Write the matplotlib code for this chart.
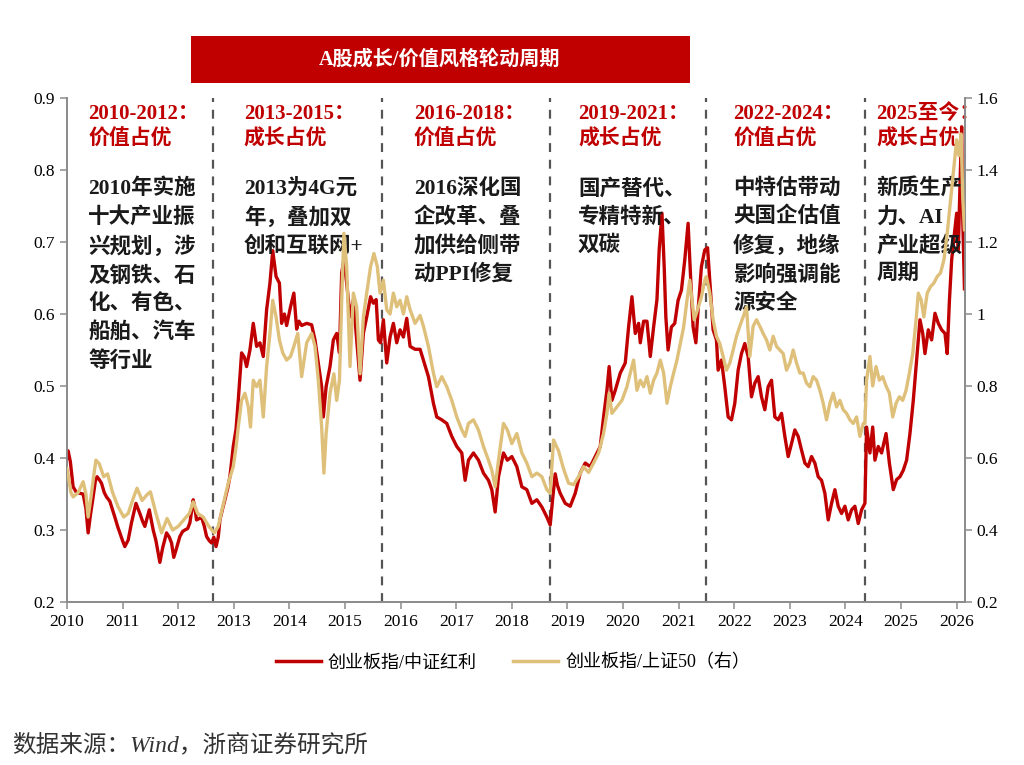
import matplotlib
matplotlib.use("Agg")
import matplotlib.pyplot as plt
from matplotlib.patches import Rectangle
from matplotlib.lines import Line2D

plt.rcParams['font.family'] = ['Liberation Serif', 'Noto Sans CJK SC', 'DejaVu Sans']

# ---------------- data ----------------
red_x = [2010.00, 2010.02, 2010.06, 2010.11, 2010.17, 2010.23, 2010.29, 2010.34, 2010.38, 2010.42,
         2010.47, 2010.51, 2010.54, 2010.58, 2010.62, 2010.67, 2010.71, 2010.77, 2010.82, 2010.86,
         2010.91, 2010.95, 2011.00, 2011.04, 2011.10, 2011.16, 2011.24, 2011.31, 2011.36, 2011.40,
         2011.48, 2011.55, 2011.60, 2011.64, 2011.67, 2011.72, 2011.79, 2011.84, 2011.88, 2011.92,
         2011.96, 2012.03, 2012.08, 2012.12, 2012.17, 2012.21, 2012.27, 2012.30, 2012.33, 2012.38,
         2012.42, 2012.47, 2012.51, 2012.56, 2012.60, 2012.64, 2012.68, 2012.72, 2012.75, 2012.80,
         2012.84, 2012.89, 2012.93, 2012.99, 2013.04, 2013.08, 2013.14, 2013.19, 2013.23, 2013.29,
         2013.35, 2013.41, 2013.47, 2013.53, 2013.59, 2013.65, 2013.70, 2013.73, 2013.76, 2013.82,
         2013.86, 2013.91, 2013.95, 2014.02, 2014.08, 2014.13, 2014.17, 2014.22, 2014.31, 2014.40,
         2014.46, 2014.52, 2014.58, 2014.61, 2014.66, 2014.73, 2014.79, 2014.85, 2014.90, 2014.94,
         2014.98, 2015.03, 2015.09, 2015.15, 2015.21, 2015.27, 2015.33, 2015.39, 2015.46, 2015.51,
         2015.56, 2015.60, 2015.64, 2015.69, 2015.75, 2015.81, 2015.87, 2015.93, 2015.99, 2016.05,
         2016.11, 2016.17, 2016.26, 2016.35, 2016.41, 2016.50, 2016.59, 2016.65, 2016.74, 2016.83,
         2016.92, 2017.01, 2017.10, 2017.16, 2017.22, 2017.31, 2017.40, 2017.49, 2017.58, 2017.64,
         2017.70, 2017.76, 2017.85, 2017.92, 2018.00, 2018.09, 2018.18, 2018.27, 2018.36, 2018.45,
         2018.54, 2018.63, 2018.69, 2018.73, 2018.78, 2018.82, 2018.87, 2018.96, 2019.05, 2019.14,
         2019.23, 2019.32, 2019.41, 2019.50, 2019.59, 2019.65, 2019.71, 2019.75, 2019.80, 2019.86,
         2019.95, 2020.04, 2020.10, 2020.16, 2020.22, 2020.28, 2020.31, 2020.37, 2020.43, 2020.49,
         2020.55, 2020.61, 2020.65, 2020.70, 2020.74, 2020.77, 2020.81, 2020.87, 2020.93, 2020.99,
         2021.05, 2021.11, 2021.17, 2021.22, 2021.26, 2021.31, 2021.35, 2021.41, 2021.47, 2021.52,
         2021.56, 2021.62, 2021.68, 2021.71, 2021.77, 2021.83, 2021.89, 2021.95, 2022.01, 2022.07,
         2022.13, 2022.19, 2022.25, 2022.31, 2022.37, 2022.43, 2022.49, 2022.55, 2022.61, 2022.67,
         2022.73, 2022.79, 2022.85, 2022.91, 2022.97, 2023.03, 2023.09, 2023.15, 2023.21, 2023.27,
         2023.33, 2023.39, 2023.45, 2023.51, 2023.57, 2023.63, 2023.69, 2023.75, 2023.81, 2023.87,
         2023.93, 2023.99, 2024.05, 2024.11, 2024.17, 2024.23, 2024.29, 2024.35, 2024.38, 2024.44,
         2024.49, 2024.53, 2024.59, 2024.65, 2024.73, 2024.79, 2024.86, 2024.92, 2024.98, 2025.04,
         2025.10, 2025.16, 2025.22, 2025.27, 2025.31, 2025.34, 2025.39, 2025.43, 2025.49, 2025.55,
         2025.61, 2025.67, 2025.73, 2025.79, 2025.83, 2025.87, 2025.91, 2025.96, 2026.00, 2026.03,
         2026.06, 2026.09, 2026.11, 2026.14]
red_y = [0.400, 0.410, 0.395, 0.360, 0.352, 0.351, 0.350, 0.330, 0.296, 0.320,
         0.346, 0.368, 0.374, 0.370, 0.365, 0.352, 0.346, 0.340, 0.328, 0.318,
         0.305, 0.296, 0.285, 0.277, 0.286, 0.310, 0.337, 0.323, 0.312, 0.305,
         0.328, 0.300, 0.285, 0.268, 0.255, 0.275, 0.296, 0.290, 0.282, 0.262,
         0.272, 0.291, 0.298, 0.300, 0.302, 0.310, 0.342, 0.330, 0.314, 0.316,
         0.318, 0.305, 0.291, 0.285, 0.282, 0.290, 0.277, 0.290, 0.314, 0.330,
         0.342, 0.358, 0.374, 0.416, 0.440, 0.480, 0.546, 0.540, 0.527, 0.550,
         0.587, 0.555, 0.560, 0.541, 0.606, 0.643, 0.688, 0.670, 0.652, 0.643,
         0.587, 0.600, 0.584, 0.610, 0.629, 0.579, 0.590, 0.584, 0.587, 0.585,
         0.564, 0.532, 0.499, 0.457, 0.499, 0.527, 0.564, 0.573, 0.546, 0.657,
         0.675, 0.643, 0.596, 0.620, 0.564, 0.508, 0.573, 0.596, 0.624, 0.615,
         0.620, 0.564, 0.560, 0.592, 0.532, 0.568, 0.587, 0.560, 0.578, 0.568,
         0.594, 0.555, 0.551, 0.551, 0.536, 0.513, 0.476, 0.457, 0.453, 0.448,
         0.430, 0.416, 0.407, 0.369, 0.397, 0.407, 0.397, 0.379, 0.369, 0.356,
         0.325, 0.374, 0.407, 0.397, 0.402, 0.388, 0.360, 0.356, 0.337, 0.342,
         0.332, 0.318, 0.307, 0.340, 0.378, 0.362, 0.351, 0.337, 0.333, 0.351,
         0.379, 0.393, 0.388, 0.402, 0.416, 0.457, 0.494, 0.527, 0.480, 0.494,
         0.518, 0.532, 0.582, 0.624, 0.573, 0.587, 0.560, 0.590, 0.590, 0.541,
         0.582, 0.620, 0.689, 0.740, 0.666, 0.596, 0.550, 0.582, 0.587, 0.619,
         0.633, 0.675, 0.726, 0.643, 0.582, 0.560, 0.606, 0.666, 0.689, 0.692,
         0.647, 0.578, 0.564, 0.522, 0.536, 0.499, 0.457, 0.453, 0.476, 0.522,
         0.545, 0.559, 0.541, 0.485, 0.504, 0.513, 0.485, 0.467, 0.499, 0.508,
         0.457, 0.453, 0.462, 0.430, 0.402, 0.420, 0.439, 0.430, 0.411, 0.393,
         0.388, 0.402, 0.393, 0.374, 0.369, 0.351, 0.314, 0.337, 0.356, 0.333,
         0.323, 0.333, 0.314, 0.328, 0.333, 0.309, 0.328, 0.337, 0.443, 0.407,
         0.443, 0.397, 0.416, 0.407, 0.434, 0.393, 0.356, 0.370, 0.374, 0.383,
         0.397, 0.434, 0.480, 0.527, 0.564, 0.592, 0.573, 0.545, 0.578, 0.564,
         0.601, 0.587, 0.578, 0.573, 0.545, 0.619, 0.675, 0.712, 0.740, 0.689,
         0.780, 0.860, 0.730, 0.635]

tan_x = [2010.00, 2010.03, 2010.07, 2010.11, 2010.20, 2010.29, 2010.34, 2010.38, 2010.43, 2010.47,
         2010.52, 2010.58, 2010.66, 2010.73, 2010.82, 2010.92, 2011.02, 2011.10, 2011.20, 2011.26,
         2011.35, 2011.45, 2011.50, 2011.60, 2011.70, 2011.80, 2011.90, 2012.00, 2012.10, 2012.20,
         2012.27, 2012.35, 2012.45, 2012.55, 2012.65, 2012.72, 2012.80, 2012.90, 2012.99, 2013.04,
         2013.08, 2013.14, 2013.20, 2013.26, 2013.30, 2013.35, 2013.41, 2013.47, 2013.53, 2013.59,
         2013.65, 2013.70, 2013.76, 2013.82, 2013.88, 2013.95, 2014.02, 2014.08, 2014.15, 2014.22,
         2014.31, 2014.40, 2014.46, 2014.52, 2014.58, 2014.62, 2014.66, 2014.73, 2014.80, 2014.85,
         2014.90, 2014.94, 2014.98, 2015.03, 2015.09, 2015.15, 2015.21, 2015.27, 2015.33, 2015.39,
         2015.46, 2015.52, 2015.58, 2015.63, 2015.69, 2015.75, 2015.81, 2015.87, 2015.93, 2015.99,
         2016.05, 2016.11, 2016.17, 2016.26, 2016.35, 2016.41, 2016.50, 2016.59, 2016.65, 2016.74,
         2016.83, 2016.92, 2017.01, 2017.10, 2017.16, 2017.22, 2017.31, 2017.40, 2017.49, 2017.58,
         2017.64, 2017.70, 2017.76, 2017.85, 2017.92, 2018.00, 2018.09, 2018.18, 2018.27, 2018.36,
         2018.45, 2018.54, 2018.63, 2018.69, 2018.75, 2018.84, 2018.93, 2019.02, 2019.11, 2019.20,
         2019.29, 2019.38, 2019.47, 2019.56, 2019.65, 2019.71, 2019.75, 2019.80, 2019.89, 2019.98,
         2020.07, 2020.13, 2020.19, 2020.25, 2020.31, 2020.37, 2020.43, 2020.49, 2020.55, 2020.61,
         2020.67, 2020.73, 2020.79, 2020.85, 2020.91, 2020.97, 2021.03, 2021.09, 2021.15, 2021.20,
         2021.24, 2021.28, 2021.34, 2021.41, 2021.47, 2021.50, 2021.56, 2021.62, 2021.68, 2021.74,
         2021.80, 2021.86, 2021.92, 2021.98, 2022.04, 2022.10, 2022.16, 2022.22, 2022.28, 2022.34,
         2022.40, 2022.46, 2022.52, 2022.58, 2022.64, 2022.70, 2022.76, 2022.82, 2022.88, 2022.94,
         2023.00, 2023.06, 2023.12, 2023.18, 2023.24, 2023.30, 2023.36, 2023.42, 2023.48, 2023.54,
         2023.60, 2023.66, 2023.72, 2023.78, 2023.84, 2023.90, 2023.96, 2024.02, 2024.08, 2024.14,
         2024.20, 2024.26, 2024.32, 2024.35, 2024.38, 2024.44, 2024.49, 2024.55, 2024.61, 2024.67,
         2024.73, 2024.79, 2024.85, 2024.91, 2024.97, 2025.03, 2025.09, 2025.15, 2025.21, 2025.27,
         2025.31, 2025.36, 2025.41, 2025.47, 2025.53, 2025.59, 2025.65, 2025.71, 2025.77, 2025.83,
         2025.89, 2025.95, 2026.00, 2026.04, 2026.08, 2026.11, 2026.14]
tan_y = [0.570, 0.544, 0.504, 0.492, 0.504, 0.534, 0.500, 0.436, 0.490, 0.538,
         0.594, 0.584, 0.548, 0.556, 0.504, 0.464, 0.436, 0.446, 0.492, 0.516,
         0.482, 0.500, 0.506, 0.446, 0.392, 0.432, 0.400, 0.410, 0.428, 0.446,
         0.478, 0.446, 0.436, 0.410, 0.392, 0.410, 0.464, 0.530, 0.576, 0.630,
         0.686, 0.760, 0.780, 0.742, 0.686, 0.816, 0.798, 0.816, 0.714, 0.854,
         0.946, 1.038, 0.992, 0.928, 0.892, 0.872, 0.882, 0.910, 0.946, 0.826,
         0.920, 0.946, 0.910, 0.816, 0.686, 0.558, 0.668, 0.780, 0.834, 0.760,
         0.816, 1.038, 1.224, 1.132, 0.854, 1.058, 1.020, 0.834, 0.992, 1.058,
         1.132, 1.168, 1.132, 1.058, 1.094, 1.012, 1.000, 1.058, 1.020, 1.038,
         1.000, 1.048, 1.012, 0.974, 0.996, 0.966, 0.910, 0.836, 0.798, 0.826,
         0.798, 0.760, 0.714, 0.678, 0.660, 0.696, 0.706, 0.678, 0.632, 0.594,
         0.566, 0.520, 0.594, 0.696, 0.678, 0.640, 0.668, 0.614, 0.586, 0.548,
         0.558, 0.548, 0.512, 0.502, 0.650, 0.620, 0.570, 0.530, 0.526, 0.548,
         0.576, 0.560, 0.586, 0.614, 0.668, 0.724, 0.780, 0.724, 0.742, 0.760,
         0.798, 0.836, 0.872, 0.788, 0.816, 0.798, 0.826, 0.780, 0.816, 0.836,
         0.872, 0.836, 0.752, 0.798, 0.836, 0.872, 0.918, 0.964, 1.038, 1.094,
         1.038, 0.984, 1.012, 1.048, 1.094, 1.104, 1.058, 0.984, 0.938, 0.918,
         0.882, 0.844, 0.864, 0.900, 0.938, 0.966, 0.992, 1.020, 0.882, 0.966,
         0.984, 0.966, 0.946, 0.928, 0.900, 0.938, 0.910, 0.900, 0.890, 0.844,
         0.864, 0.900, 0.864, 0.836, 0.836, 0.808, 0.798, 0.826, 0.816, 0.788,
         0.752, 0.706, 0.752, 0.780, 0.742, 0.760, 0.734, 0.724, 0.706, 0.696,
         0.714, 0.660, 0.696, 0.696, 0.816, 0.882, 0.800, 0.854, 0.816, 0.826,
         0.800, 0.780, 0.714, 0.752, 0.770, 0.760, 0.788, 0.836, 0.890, 0.984,
         1.058, 1.040, 0.992, 1.058, 1.076, 1.086, 1.104, 1.114, 1.150, 1.224,
         1.316, 1.410, 1.484, 1.440, 1.500, 1.320, 1.234]

year_ticks = list(range(2010, 2027))
left_ticks = [0.2, 0.3, 0.4, 0.5, 0.6, 0.7, 0.8, 0.9]
right_ticks = [0.2, 0.4, 0.6, 0.8, 1.0, 1.2, 1.4, 1.6]
right_labels = ['0.2', '0.4', '0.6', '0.8', '1', '1.2', '1.4', '1.6']
split_years = [2012.63, 2015.66, 2018.69, 2021.50, 2024.35]

header_x = [2010.38, 2013.18, 2016.24, 2019.19, 2021.98, 2024.55]
header_text = ['2010-2012：\n价值占优', '2013-2015：\n成长占优', '2016-2018：\n价值占优',
               '2019-2021：\n成长占优', '2022-2024：\n价值占优', '2025至今：\n成长占优']
body_text = ['2010年实施\n十大产业振\n兴规划，涉\n及钢铁、石\n化、有色、\n船舶、汽车\n等行业',
             '2013为4G元\n年，叠加双\n创和互联网+',
             '2016深化国\n企改革、叠\n加供给侧带\n动PPI修复',
             '国产替代、\n专精特新、\n双碳',
             '中特估带动\n央国企估值\n修复，地缘\n影响强调能\n源安全',
             '新质生产\n力、AI\n产业超级\n周期']

label_red = '创业板指/中证红利'
label_tan = '创业板指/上证50（右）'
title = 'A股成长/价值风格轮动周期'
source = '数据来源：Wind，浙商证券研究所'

RED = '#C00000'
TAN = '#DFC07A'

# ---------------- figure ----------------
fig = plt.figure(figsize=(10.24, 7.65), dpi=100)
ax = fig.add_axes([67/1024, 1-602/765, (965-67)/1024, (602-98)/765])
ax2 = ax.twinx()

ax.plot(red_x, red_y, color=RED, lw=2.4, solid_joinstyle='round', zorder=3)
ax2.plot(tan_x, tan_y, color=TAN, lw=2.4, solid_joinstyle='round', zorder=3)

ax.set_xlim(2010, 2026.15)
ax.set_ylim(0.2, 0.9)
ax2.set_ylim(0.2, 1.6)
ax.set_xticks(year_ticks)
ax.set_xticklabels([str(y) for y in year_ticks])
ax.set_yticks(left_ticks)
ax.set_yticklabels([f'{v:.1f}' for v in left_ticks])
ax2.set_yticks(right_ticks)
ax2.set_yticklabels(right_labels)

for a in (ax, ax2):
    a.spines['top'].set_visible(False)
    for s in ('left', 'right', 'bottom'):
        a.spines[s].set_color('#8c8c8c')
        a.spines[s].set_linewidth(1.3)
    a.tick_params(axis='both', direction='out', length=5, width=1.1, color='#8c8c8c',
                  labelsize=12.5, labelcolor='black')
ax.tick_params(axis='x', pad=4)

for xv in split_years:
    ax.axvline(xv, color='#555555', lw=1.6, ls=(0, (4, 3.5)), zorder=2)

for hx, ht, bt in zip(header_x, header_text, body_text):
    ax.text(hx, 0.892, ht, color=RED, fontsize=15, fontweight='bold', va='top', ha='left',
            linespacing=1.4, zorder=5)
    ax.text(hx, 0.788, bt, color='#1a1a1a', fontsize=15.5, fontweight='bold', va='top', ha='left',
            linespacing=1.5, zorder=5)

# title box
fig.patches.append(Rectangle((191/1024, 1-83/765), (690-191)/1024, (83-36)/765,
                             transform=fig.transFigure, facecolor=RED, edgecolor='none'))
fig.text(440/1024, 1-60/765, title, color='white', fontsize=14.5, fontweight='bold',
         ha='center', va='center')

handles = [Line2D([], [], color=RED, lw=2.5), Line2D([], [], color=TAN, lw=2.5)]
fig.legend(handles, [label_red, label_tan], loc='center', bbox_to_anchor=(513/1024, 1-663/765),
           ncol=2, frameon=False, fontsize=13, handlelength=2.5, columnspacing=2.0,
           handletextpad=0.4)

fig.text(12/1024, 1-745/765, source, fontsize=17, color='#333333', ha='left', va='center',
         style='italic')

fig.savefig('out.png', dpi=100)
